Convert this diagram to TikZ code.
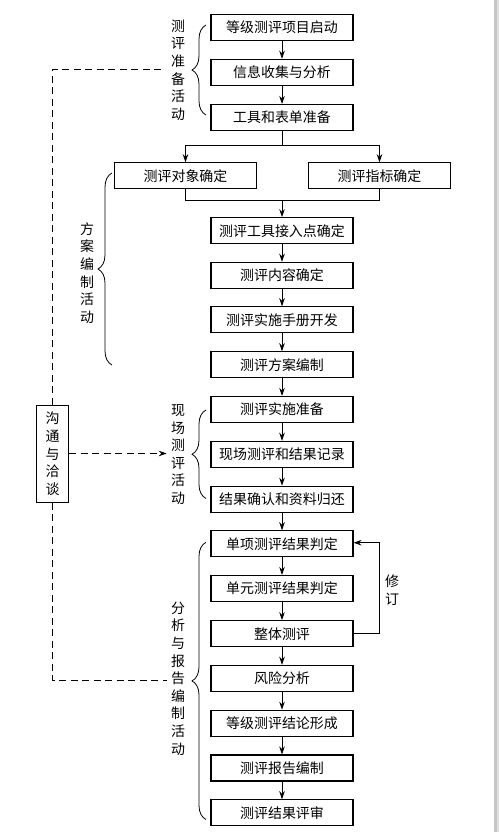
\documentclass[tikz,border=0pt]{standalone}
\usepackage{fontspec}
\setmainfont{Noto Sans CJK SC}
\usetikzlibrary{arrows.meta,decorations.pathreplacing,calc}
\begin{document}
\begin{tikzpicture}[x=1bp,y=-1bp,
  every node/.style={font=\fontsize{14}{17.7}\selectfont},
  box/.style={draw,line width=1.1pt,minimum width=142bp,minimum height=26bp,inner sep=0pt},
  conn/.style={line width=0.8pt},
  arr/.style={conn,-{Stealth[length=8bp,width=5.5bp]}},
  dsh/.style={line width=0.8pt,dash pattern=on 7bp off 4.5bp},
  brc/.style={line width=0.8pt,decorate,decoration={brace,amplitude=#1}},
  vlab/.style={align=center,inner sep=0pt,font=\fontsize{14}{17.7}\selectfont}
]
\useasboundingbox (0,0) rectangle (501,832);
\fill[white] (0,0) rectangle (501,832);
\fill[gray!45] (494,0) rectangle (498,832);
\fill[gray!25] (497,0) rectangle (499,832);

% main boxes
\node[box] (b1) at (282,27.5) {等级测评项目启动};
\node[box] (b2) at (282,72.3) {信息收集与分析};
\node[box] (b3) at (282,117.5) {工具和表单准备};
\node[box] (b4l) at (185.5,175.8) {测评对象确定};
\node[box] (b4r) at (379.5,175.8) {测评指标确定};
\node[box] (b5) at (282,230.7) {测评工具接入点确定};
\node[box] (b6) at (282,275.3) {测评内容确定};
\node[box] (b7) at (282,319.8) {测评实施手册开发};
\node[box] (b8) at (282,364.8) {测评方案编制};
\node[box] (b9) at (282,409.5) {测评实施准备};
\node[box] (b10) at (282,454.3) {现场测评和结果记录};
\node[box] (b11) at (282,499.2) {结果确认和资料归还};
\node[box] (b12) at (282,543.8) {单项测评结果判定};
\node[box] (b13) at (282,588.5) {单元测评结果判定};
\node[box] (b14) at (282,633.7) {整体测评};
\node[box] (b15) at (282,678.3) {风险分析};
\node[box] (b16) at (282,723.2) {等级测评结论形成};
\node[box] (b17) at (282,768) {测评报告编制};
\node[box] (b18) at (282,812.8) {测评结果评审};

% straight arrows
\draw[arr] (b1) -- (b2);
\draw[arr] (b2) -- (b3);
\foreach \a/\b in {b5/b6,b6/b7,b7/b8,b8/b9,b9/b10,b10/b11,b11/b12,b12/b13,b13/b14,b14/b15,b15/b16,b16/b17,b17/b18}
  \draw[arr] (\a) -- (\b);

% branch
\coordinate (sp) at (282,145.3);
\coordinate (spl) at (b4l |- sp);
\coordinate (spr) at (b4r |- sp);
\draw[conn] (b3.south) -- (sp);
\draw[conn] (spl) -- (spr);
\draw[arr] (spl) -- (b4l.north);
\draw[arr] (spr) -- (b4r.north);
% join
\coordinate (jn) at (282,200);
\draw[conn] (b4l.south) -- (b4l |- jn) -- (b4r |- jn) -- (b4r.south);
\draw[arr] (jn) -- (b5.north);

% revision loop
\coordinate (rv1) at (379,633.7);
\coordinate (rv2) at (379,542.7);
\draw[arr] (b14.east) -- (rv1) -- (rv2) -- (b12.east |- rv2);
\node[vlab] (rvl) at (392,590) {修\\订};

% communication box
\node[draw,line width=1.1pt,minimum width=32bp,minimum height=97bp,inner sep=0pt,align=center,font=\fontsize{14}{17.6}\selectfont] (cm) at (52.7,453.7) {沟\\通\\与\\洽\\谈};
\coordinate (dt) at (52.7,69.3);
\coordinate (dte) at (160.7,69.3);
\coordinate (db) at (52.7,680);
\coordinate (dbe) at (166.7,680);
\coordinate (dme) at (166.7,453.5);
\draw[dsh] (cm.north) -- (dt) -- (dte);
\draw[dsh] (cm.south) -- (db) -- (dbe);
\draw[dsh,-{Stealth[length=8bp,width=5.5bp]}] (cm.east |- dme) -- (dme);

% braces
\coordinate (br1a) at (206,115);
\coordinate (br1b) at (206,25);
\draw[brc=14bp] (br1a) -- (br1b);
\node[vlab] (l1) at (178,70) {测\\评\\准\\备\\活\\动};

\coordinate (br2a) at (112,365);
\coordinate (br2b) at (112,173);
\draw[brc=14bp] (br2a) -- (br2b);
\node[vlab] (l2) at (87,273) {方\\案\\编\\制\\活\\动};

\coordinate (br3a) at (206,498.5);
\coordinate (br3b) at (206,410);
\draw[brc=14bp] (br3a) -- (br3b);
\node[vlab] (l3) at (178,454.5) {现\\场\\测\\评\\活\\动};

\coordinate (br4a) at (206,819.5);
\coordinate (br4b) at (206,542.3);
\draw[brc=14bp] (br4a) -- (br4b);
\node[vlab] (l4) at (178,678.5) {分\\析\\与\\报\\告\\编\\制\\活\\动};
\end{tikzpicture}
\end{document}
